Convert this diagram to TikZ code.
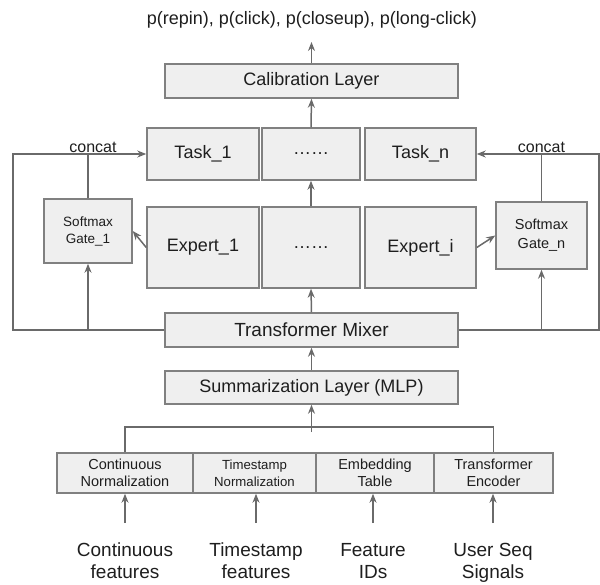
\documentclass[tikz,border=0pt]{standalone}
\usepackage{fontspec}
\setmainfont{Liberation Sans}
\usetikzlibrary{arrows.meta, positioning}
\definecolor{boxgray}{HTML}{EFEFEF}
\definecolor{edgegray}{HTML}{808080}
\definecolor{linegray}{HTML}{6A6A6A}
\definecolor{inkgray}{HTML}{1E1E1E}

\begin{document}
\begin{tikzpicture}[
x=1pt, y=-1pt,
>={Stealth[length=9pt,width=7pt]},
layer/.style={draw=edgegray, fill=boxgray, line width=1.5pt, inner sep=0pt,
  text=inkgray, font=\fontsize{18}{21}\selectfont},
wide/.style={layer, minimum width=293pt, minimum height=34pt},
task/.style={layer, minimum height=52pt},
expert/.style={layer, minimum height=81pt},
gate/.style={layer, align=center, font=\fontsize{13.5}{17}\selectfont},
prep/.style={layer, minimum height=40pt, align=center, font=\fontsize{14.5}{17}\selectfont},
feat/.style={anchor=north, inner sep=0pt, align=center, text=inkgray, font=\fontsize{19}{22}\selectfont},
flow/.style={->, draw=linegray, line width=1.5pt},
wire/.style={draw=linegray, line width=1.5pt},
]
\useasboundingbox (0,0) rectangle (600,584);

% nodes
\node[text=inkgray, font=\fontsize{18}{21}\selectfont] (out) at (312,20) {p(repin), p(click), p(closeup), p(long-click)};
\coordinate (outtip) at (311.5,42);
\node[wide] (calib) at (311.5,81) {Calibration Layer};

\node[task, minimum width=112pt] (task1) at (203,154) {Task\_1};
\node[task, minimum width=98pt] (taskdots) at (311,154) {……};
\node[task, minimum width=111pt] (taskn) at (420.5,154) {Task\_n};

\node[expert, minimum width=112pt] (exp1) at (203,247.5) {Expert\_1};
\node[expert, minimum width=98pt] (expdots) at (311,247.5) {……};
\node[expert, minimum width=111pt] (expi) at (420.5,247.5) {Expert\_i};

\node[gate, minimum width=88pt, minimum height=64pt] (gate1) at (88,231) {Softmax\\Gate\_1};
\node[gate, minimum width=91pt, minimum height=67pt, font=\fontsize{14.5}{19}\selectfont] (gaten) at (541.5,235.5) {Softmax\\Gate\_n};

\node[wide, font=\fontsize{19}{22}\selectfont] (mixer) at (311.5,330) {Transformer Mixer};
\node[wide, minimum height=33pt] (summ) at (311.5,387.5) {Summarization Layer (MLP)};

\node[prep, minimum width=136pt] (cont) at (125,473) {Continuous\\Normalization};
\node[prep, minimum width=123pt, font=\fontsize{13.2}{17}\selectfont] (tsnorm) at (254.5,473) {Timestamp\\Normalization};
\node[prep, minimum width=118pt] (emb) at (375,473) {Embedding\\Table};
\node[prep, minimum width=119pt] (enc) at (493.5,473) {Transformer\\Encoder};

\node[feat] (incont) at (125,543) {Continuous\\features};
\node[feat] (ints) at (256,543) {Timestamp\\features};
\node[feat] (inid) at (373,543) {Feature\\IDs};
\node[feat] (inseq) at (493,543) {User Seq\\Signals};

\coordinate (lcorner) at (13,330);
\coordinate (rcorner) at (599,330);
\coordinate (bar) at (312,427);
\coordinate (barstub) at (312,432);

% arrows
\draw[flow] (calib.north) -- (outtip);
\draw[flow] (taskdots.north) -- (calib.south);
\draw[flow] (expdots.north) -- (taskdots.south);
\draw[flow] (mixer.north) -- (expdots.south);
\draw[flow] (summ.north) -- (mixer.south);
\draw[flow] (exp1.west) -- (gate1.east);
\draw[flow] (expi.east) -- (gaten.west);

% mixer skip lines into the tasks
\draw[flow] (mixer.west) -- (lcorner) |- (task1.west);
\draw[flow] (mixer.east) -- (rcorner) |- (taskn.east);
\draw[flow] (gate1.south |- mixer.west) -- (gate1.south);
\draw[flow] (gaten.south |- mixer.east) -- (gaten.south);
\draw[wire] (gate1.north) -- (gate1.north |- task1.west) node[above=0.5pt, xshift=5pt, inner sep=0pt, text=inkgray, font=\fontsize{16}{18}\selectfont] (cat1) {concat};
\draw[wire] (gaten.north) -- (gaten.north |- taskn.east) node[above=0.5pt, inner sep=0pt, text=inkgray, font=\fontsize{16}{18}\selectfont] (catn) {concat};

% inputs
\draw[wire] (cont.north) |- (bar) -| (enc.north);
\draw[flow] (summ.south |- barstub) -- (summ.south);
\foreach \a/\b in {incont/cont, ints/tsnorm, inid/emb, inseq/enc}
  \draw[flow, shorten <=20pt] (\a.north) -- (\a.north |- \b.south);
\end{tikzpicture}
\end{document}
